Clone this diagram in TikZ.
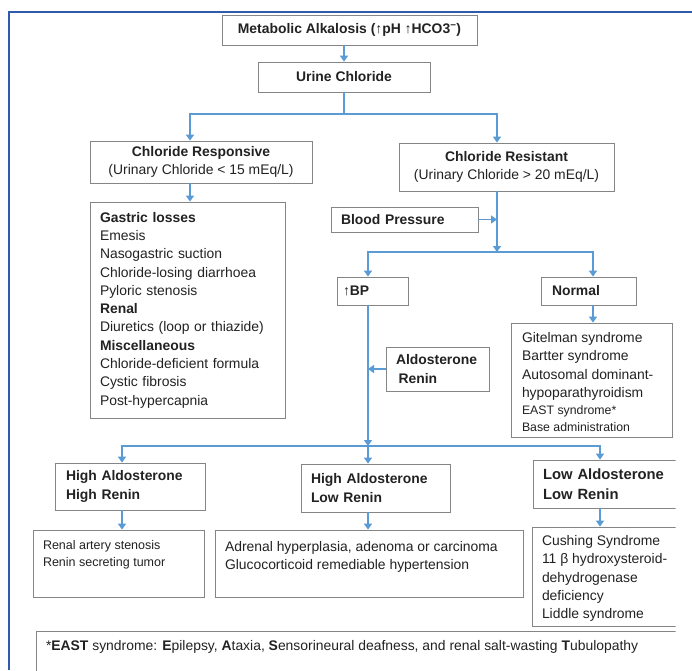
\documentclass[tikz,border=0pt]{standalone}
\usepackage{fontspec}
\setmainfont{Liberation Sans}
\usetikzlibrary{arrows.meta}
\definecolor{frameblue}{HTML}{2F5BAA}
\definecolor{arrblue}{HTML}{5B9BD5}
\definecolor{boxgray}{HTML}{858585}
\definecolor{txt}{HTML}{222222}
\newcommand\fmain{\fontsize{13.9}{18.3}\selectfont}
\newcommand\fsmall{\fontsize{12.5}{16.5}\selectfont}
\newcommand\fbig{\fontsize{14.8}{19.5}\selectfont}
\newcommand\fnote{\fontsize{13.9}{15}\selectfont}
\begin{document}
\begin{tikzpicture}[x=1pt,y=-1pt,
  box/.style={draw=boxgray,line width=0.8pt,inner sep=0pt,text=txt},
  arr/.style={draw=arrblue,line width=1.9pt,-{Triangle[width=8pt,length=6pt]}},
  ln/.style={draw=arrblue,line width=1.9pt}]
\useasboundingbox (0,0) rectangle (692,670);
\fill[white] (0,0) rectangle (692,670);
\begin{scope}
\clip (0,0) rectangle (675.5,670);
% top
\node[box,minimum width=255pt,minimum height=30pt,font=\fmain\bfseries] (meta) at (349.5,30) {Metabolic Alkalosis (↑pH ↑HCO3\textsuperscript{−})};
\node[box,minimum width=172pt,minimum height=30pt,font=\fmain\bfseries] (urine) at (344,77) {Urine Chloride};
\coordinate (j1) at (344,114);
\node[box,minimum width=222pt,minimum height=42pt,font=\fmain,align=center] (resp) at (201,162) {\textbf{Chloride Responsive}\\(Urinary Chloride < 15 mEq/L)};
\node[box,minimum width=215pt,minimum height=48pt,font=\fmain,align=center] (resist) at (506.5,167) {\textbf{Chloride Resistant}\\(Urinary Chloride > 20 mEq/L)};
% left list
\node[box,minimum height=216pt,text width=175pt,inner xsep=10pt,align=left,font=\fmain] (list1) at (187.5,310) {\textbf{Gastric losses}\\Emesis\\Nasogastric suction\\Chloride-losing diarrhoea\\Pyloric stenosis\\\textbf{Renal}\\Diuretics (loop or thiazide)\\\textbf{Miscellaneous}\\Chloride-deficient formula\\Cystic fibrosis\\Post-hypercapnia};
% right branch
\node[box,minimum height=25pt,text width=127pt,inner xsep=10pt,align=left,font=\fmain\bfseries] (bp) at (404.5,219.5) {Blood Pressure};
\coordinate (j2) at (497,252);
\node[box,minimum height=28pt,text width=59pt,inner xsep=6pt,align=left,font=\fmain\bfseries] (upbp) at (372.5,291) {↑BP};
\node[box,minimum height=28pt,text width=73pt,inner xsep=11pt,align=left,font=\fmain\bfseries] (normal) at (588.5,291) {Normal};
\node[box,inner xsep=11pt] (nlist) at (591.5,380) {\parbox[c][114pt][t]{139pt}{\raggedright\fmain\vspace*{9.5pt}Gitelman syndrome\\Bartter syndrome\\Autosomal dominant-\\hypoparathyroidism\par\fontsize{12.3}{17}\selectfont EAST syndrome*\\Base administration\par}};
\node[box,minimum height=44pt,text width=83pt,inner xsep=10pt,align=left,font=\fmain\bfseries] (aldo) at (437.5,369) {Aldosterone\\\hspace*{2.5pt}Renin};
\coordinate (j3) at (368,446);
% bottom row
\node[box,minimum height=47pt,text width=128pt,inner xsep=11pt,align=left,font=\fmain\bfseries] (hahr) at (130,486.5) {High Aldosterone\\High Renin};
\node[box,minimum height=48pt,text width=129pt,inner xsep=10pt,align=left,font=\fmain\bfseries] (halr) at (375.5,488) {High Aldosterone\\Low Renin};
\node[box,minimum height=48pt,text width=137pt,inner xsep=10pt,align=left,font=\fbig\bfseries] (lalr) at (611.5,484) {Low Aldosterone\\Low Renin};
\node[box,inner xsep=10pt] (r1) at (118.5,563.5) {\parbox[c][67pt][t]{151pt}{\raggedright\fsmall\vspace*{10.5pt}Renal artery stenosis\\Renin secreting tumor}};
\node[box,inner xsep=10pt] (r2) at (369,563.5) {\parbox[c][67pt][t]{288pt}{\raggedright\fmain\vspace*{11pt}Adrenal hyperplasia, adenoma or carcinoma\\Glucocorticoid remediable hypertension}};
\node[box,inner xsep=10pt] (r3) at (611,576.5) {\parbox[c][99pt][t]{138pt}{\raggedright\fmain\vspace*{8.5pt}Cushing Syndrome\\11 β hydroxysteroid-\\dehydrogenase\\deficiency\\Liddle syndrome}};
\node[box,inner xsep=10pt] (foot) at (368,661) {\parbox[c][60pt][t]{644pt}{\raggedright\fnote\vspace*{9pt}*\textbf{EAST} syndrome: \textbf{E}pilepsy, \textbf{A}taxia, \textbf{S}ensorineural deafness, and renal salt-wasting \textbf{T}ubulopathy}};
% connectors
\draw[arr] (urine.north |- meta.south) -- (urine.north);
\draw[ln] (urine.south) -- (j1);
\draw[arr] (j1) -| ([xshift=-11pt]resp.north);
\draw[arr] (j1) -| ([xshift=-9.5pt]resist.north);
\draw[arr] ([xshift=-11pt]resp.south) -- ([xshift=2.5pt]list1.north);
\draw[arr] ([xshift=-9.5pt]resist.south) -- (j2);
\draw[arr] (bp.east) -- (bp.east -| j2);
\draw[arr] (j2) -| ([xshift=-4.5pt]upbp.north);
\draw[arr] (j2) -| ([xshift=4.5pt]normal.north);
\draw[arr] ([xshift=4.5pt]normal.south) -- ([xshift=1.5pt]nlist.north);
\draw[arr] ([xshift=-4.5pt]upbp.south) -- (j3);
\draw[arr] (aldo.west) -- (aldo.west -| j3);
\draw[arr] (j3) -| ([xshift=-8pt]hahr.north);
\draw[arr] (j3) -| ([xshift=-7.5pt]halr.north);
\draw[arr] (j3) -| ([xshift=-11.5pt]lalr.north);
\draw[arr] ([xshift=-8pt]hahr.south) -- ([xshift=3.5pt]r1.north);
\draw[arr] ([xshift=-7.5pt]halr.south) -- ([xshift=-1pt]r2.north);
\draw[arr] ([xshift=-11.5pt]lalr.south) -- ([xshift=-11pt]r3.north);
\end{scope}
% outer frame
\draw[frameblue,line width=1.5pt] (9,670) -- (9,12) -- (692,12);
\end{tikzpicture}
\end{document}
